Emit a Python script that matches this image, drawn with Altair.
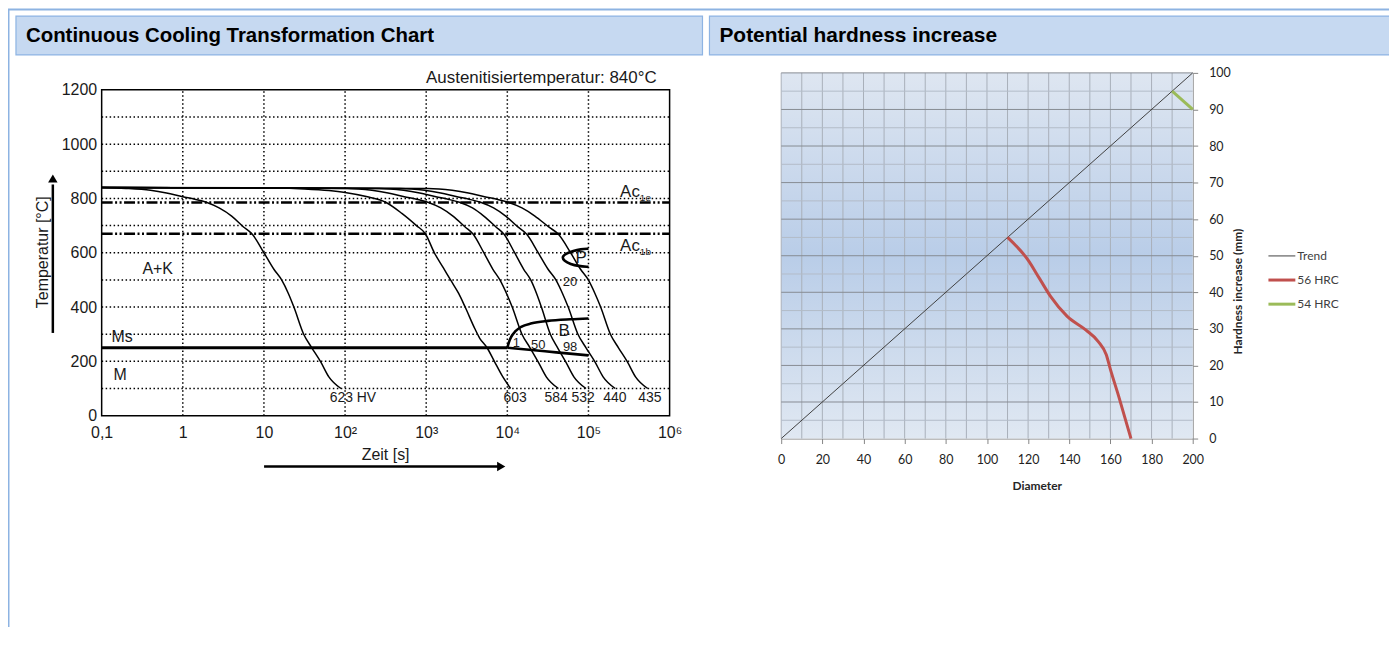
import json
import altair as alt
import pandas as pd

# ===================== LEFT PANEL DATA: CCT chart =====================
time_ticks = [0.1, 1, 10, 100, 1000, 10000, 100000, 1000000]
time_labels = ["0,1", "1", "10", "10²", "10³", "10⁴", "10⁵", "10⁶"]
temp_ticks = [0, 200, 400, 600, 800, 1000, 1200]
time_grid = [1, 10, 100, 1000, 10000, 100000]
temp_grid = [100, 200, 300, 400, 500, 600, 700, 800, 900, 1000, 1100]
time_span = [0.1, 1000000]
temp_span = [0, 1200]

ac_temps = [785, 670]                     # Ac1e, Ac1b
ms_time = [0.1, 10000]
ms_temp = [250, 250]
bs_time = [10000, 10500, 11200, 12500, 14800, 20000, 31600, 60000, 100000]
bs_temp = [250, 272, 291, 310, 327, 340, 349, 355, 358]
bf_time = [10000, 20000, 40000, 100000]
bf_temp = [250, 242, 233, 222]
p_time = [100000, 80000, 65000, 53000, 47000, 50000, 60000, 75000, 100000]
p_temp = [615, 613, 607, 597, 585, 570, 558, 551, 548]

# cooling curves (time in s, temperature in °C)
cool_T = [840, 837, 830, 820, 806, 797, 786, 765, 735, 695, 668, 600, 540, 499, 450, 400, 300, 250, 198, 143, 100]
c623_t = [0.1, 0.2, 0.4, 0.63, 1.0, 1.41, 1.95, 2.8, 4.0, 5.6, 7.2, 10, 13.2, 16.6, 20, 23.4, 30.9, 38.9, 50.1, 63.1, 89]
c603_t = [0.1, 10, 31.6, 63.1, 100, 195, 316, 501, 759, 977, 1259, 1622, 1995, 2512, 3020, 3981, 4571, 5623, 6918, 8511, 10965]
c603_T = [840, 839, 835, 829, 822, 805, 786, 745, 700, 670, 600, 545, 500, 450, 400, 320, 285, 250, 200, 150, 100]
c584_t = [0.1, 107, 214, 339, 537, 759, 1047, 1514, 2138, 3020, 3802, 5129, 6607, 8128, 9772, 11480, 15140, 19050, 23990, 30200, 42660]
c532_t = [0.1, 263, 525, 832, 1318, 1862, 2570, 3715, 5129, 7244, 9120, 12300, 15850, 19500, 22910, 26300, 33880, 41690, 52480, 66070, 93330]
c440_t = [0.1, 479, 955, 1514, 2399, 3388, 4677, 6761, 9550, 13490, 17380, 23990, 31620, 39810, 47860, 56230, 74130, 93330, 120200, 151400, 213800]
c435_t = [0.1, 1047, 2089, 3311, 5248, 7413, 10230, 15140, 21880, 32360, 42660, 60260, 79430, 100000, 120200, 141300, 186200, 234400, 302000, 380200, 537000]

# annotations (anchored in data units)
region_text = ["A+K", "Ms", "M"]
region_t = [0.49, 0.179, 0.169]
region_T = [539, 291, 149]
ac_text = ["Ac", "Ac"]
ac_sub = ["1e", "1b"]
ac_t = [430000, 430000]
ac_T = [822, 624]
ac_sub_T = [800, 604]
phase_text = ["P", "B"]
phase_t = [81000, 50000]
phase_T = [580, 312]
pct_text = ["20", "1", "50", "98"]
pct_t = [59000, 12900, 24000, 59400]
pct_T = [492, 268, 261, 253]
hv_text = ["623 HV", "603", "584", "532", "440", "435"]
hv_t = [125, 12500, 40000, 86000, 212000, 571000]
hv_T = [66, 66, 66, 66, 66, 66]

# ===================== RIGHT PANEL DATA: hardness chart =====================
diam_ticks = [0, 20, 40, 60, 80, 100, 120, 140, 160, 180, 200]
hard_ticks = [0, 10, 20, 30, 40, 50, 60, 70, 80, 90, 100]
diam_grid = [0, 10, 20, 30, 40, 50, 60, 70, 80, 90, 100, 110, 120, 130, 140, 150, 160, 170, 180, 190]
hard_minor = [5, 15, 25, 35, 45, 55, 65, 75, 85, 95]
hard_major = [10, 20, 30, 40, 50, 60, 70, 80, 90, 100]
diam_span = [0, 200]
hard_span = [0, 100]
trend_d = [0, 200]
trend_h = [0, 100]
hrc56_d = [110, 120, 125.5, 131, 139, 148, 154, 158, 160, 164, 170]
hrc56_h = [55, 48.8, 43.8, 38.8, 33.4, 29.7, 26.6, 22.9, 18.9, 11.6, 0]
hrc54_d = [190, 200]
hrc54_h = [95, 90]
legend_names = ["Trend", "56 HRC", "54 HRC"]
series_colors = ["#404040", "#c0504d", "#9bbb59"]

# ===================== layout / style =====================
W, H = 1386, 620
ARIAL = "Liberation Sans"
CAL = "Lato"
INK = "#1a1a1a"
one = pd.DataFrame({"k": [0]})

xL = alt.Scale(type="log", domain=time_span, range=[94, 664], nice=False)
yL = alt.Scale(domain=temp_span, range=[408, 81], nice=False, zero=False)
xR = alt.Scale(domain=diam_span, range=[776, 1189], nice=False, zero=False)
yR = alt.Scale(domain=hard_span, range=[431, 64], nice=False, zero=False)

label_expr = json.dumps(time_labels, ensure_ascii=False) + "[round(log(datum.value)/LN10) + 1]"
axis_xL = alt.Axis(orient="bottom", offset=408 - H, values=time_ticks, labelExpr=label_expr, title=None,
                   domain=False, ticks=False, grid=False, labelFont=ARIAL, labelFontSize=16,
                   labelColor=INK, labelPadding=9, labelFlush=False, labelOverlap=False)
axis_yL = alt.Axis(orient="left", offset=-94, values=temp_ticks, format="d", title=None, domain=False,
                   ticks=False, grid=False, labelFont=ARIAL, labelFontSize=16, labelColor=INK,
                   labelPadding=5, labelFlush=False, labelOverlap=False)
axis_xR = alt.Axis(orient="bottom", offset=431 - H, values=diam_ticks, title=None, grid=False,
                   domainColor="#868686", tickColor="#868686", tickSize=5, labelFont=CAL, labelFontSize=12.5,
                   labelColor="#1e1e1e", labelPadding=10, labelFlush=False, labelOverlap=False)
axis_yR = alt.Axis(orient="right", offset=1189 - W, values=hard_ticks, title=None, grid=False,
                   domainColor="#868686", tickColor="#868686", tickSize=5, labelFont=CAL, labelFontSize=12.5,
                   labelColor="#1e1e1e", labelPadding=11, labelFlush=False, labelOverlap=False)

# ---------- left panel layers ----------
def LX(f, axis=None):
    return alt.X(f, type="quantitative", scale=xL, axis=axis)

def LY(f, axis=None):
    return alt.Y(f, type="quantitative", scale=yL, axis=axis)

df_tg = pd.DataFrame({"t": time_grid, "T0": temp_span[0], "T1": temp_span[1]})
df_Tg = pd.DataFrame({"T": temp_grid, "t0": time_span[0], "t1": time_span[1]})
df_ac = pd.DataFrame({"T": ac_temps, "t0": time_span[0], "t1": time_span[1]})
df_frame = pd.DataFrame({"t0": [time_span[0]], "t1": [time_span[1]], "T0": [temp_span[0]], "T1": [temp_span[1]]})

def seq(ts, Ts):
    return pd.DataFrame({"t": ts, "T": Ts, "i": list(range(len(ts)))})

grid_v = alt.Chart(df_tg).mark_rule(color="black", strokeWidth=1.5, strokeDash=[1.5, 2.5]).encode(
    x=LX("t"), y=LY("T0"), y2="T1")
grid_h = alt.Chart(df_Tg).mark_rule(color="black", strokeWidth=1.5, strokeDash=[1.5, 2.5]).encode(
    y=LY("T"), x=LX("t0"), x2="t1")
ac_lines = alt.Chart(df_ac).mark_rule(color="black", strokeWidth=2.4, strokeDash=[11, 2.5, 2, 2.5, 2, 2.5]).encode(
    y=LY("T"), x=LX("t0"), x2="t1")
ms_line = alt.Chart(seq(ms_time, ms_temp)).mark_line(color="black", strokeWidth=3).encode(
    x=LX("t"), y=LY("T"), order="i")
bs_line = alt.Chart(seq(bs_time, bs_temp)).mark_line(color="black", strokeWidth=2.6, interpolate="monotone").encode(
    x=LX("t"), y=LY("T"), order="i")
bf_line = alt.Chart(seq(bf_time, bf_temp)).mark_line(color="black", strokeWidth=2.6, interpolate="monotone").encode(
    x=LX("t"), y=LY("T"), order="i")
p_line = alt.Chart(seq(p_time, p_temp)).mark_line(color="black", strokeWidth=2.6, interpolate="basis").encode(
    x=LX("t"), y=LY("T"), order="i")

curves = [("623", c623_t, cool_T), ("603", c603_t, c603_T), ("584", c584_t, cool_T),
          ("532", c532_t, cool_T), ("440", c440_t, cool_T), ("435", c435_t, cool_T)]
frames = []
for name, ts, Ts in curves:
    d = seq(ts, Ts)
    d["curve"] = name
    frames.append(d)
df_cool = pd.concat(frames, ignore_index=True)
cool_lines = alt.Chart(df_cool).mark_line(color="black", strokeWidth=1.5, interpolate="monotone").encode(
    x=LX("t"), y=LY("T"), detail="curve:N", order="i")

def ltext(texts, ts, Ts, size, align="center"):
    d = pd.DataFrame({"label": texts, "t": ts, "T": Ts})
    return alt.Chart(d).mark_text(font=ARIAL, fontSize=size, align=align, baseline="middle", color=INK).encode(
        x=LX("t"), y=LY("T"), text="label:N")

t_region = ltext(region_text, region_t, region_T, 16)
t_ac = ltext(ac_text, ac_t, ac_T, 17, "right")
t_acsub = ltext(ac_sub, ac_t, ac_sub_T, 10, "left")
t_phase = ltext(phase_text, phase_t, phase_T, 17)
t_pct = ltext(pct_text, pct_t, pct_T, 13)
t_hv = ltext(hv_text, hv_t, hv_T, 14)

frame = alt.Chart(df_frame).mark_rect(fill="transparent", stroke="black", strokeWidth=1.5).encode(
    x=LX("t0", axis_xL), x2="t1", y=LY("T0", axis_yL), y2="T1")

left = alt.layer(grid_v, grid_h, ac_lines, ms_line, bs_line, bf_line, p_line, cool_lines,
                 t_region, t_ac, t_acsub, t_phase, t_pct, t_hv, frame
                 ).resolve_axis(x="independent", y="independent")

# ---------- right panel layers ----------
def RX(f, axis=None):
    return alt.X(f, type="quantitative", scale=xR, axis=axis)

def RY(f, axis=None):
    return alt.Y(f, type="quantitative", scale=yR, axis=axis)

df_bg = pd.DataFrame({"d0": [diam_span[0]], "d1": [diam_span[1]], "h0": [hard_span[0]], "h1": [hard_span[1]]})
grad = alt.LinearGradient(gradient="linear", x1=0, x2=0, y1=0, y2=1,
                          stops=[alt.GradientStop(color="#dee6f1", offset=0),
                                 alt.GradientStop(color="#b9cde8", offset=0.5),
                                 alt.GradientStop(color="#e0e8f2", offset=1)])
bg = alt.Chart(df_bg).mark_rect(fill=grad).encode(
    x=RX("d0", axis_xR), x2="d1", y=RY("h0", axis_yR), y2="h1")
rg_v = alt.Chart(pd.DataFrame({"d": diam_grid, "h0": hard_span[0], "h1": hard_span[1]})).mark_rule(
    color="#a9b0ba", strokeWidth=1).encode(x=RX("d"), y=RY("h0"), y2="h1")
rg_minor = alt.Chart(pd.DataFrame({"h": hard_minor, "d0": diam_span[0], "d1": diam_span[1]})).mark_rule(
    color="#b3bcc8", strokeWidth=1).encode(y=RY("h"), x=RX("d0"), x2="d1")
rg_major = alt.Chart(pd.DataFrame({"h": hard_major, "d0": diam_span[0], "d1": diam_span[1]})).mark_rule(
    color="#878c93", strokeWidth=1).encode(y=RY("h"), x=RX("d0"), x2="d1")

def rline(ds, hs, color, width):
    d = pd.DataFrame({"d": ds, "h": hs, "i": list(range(len(ds)))})
    return alt.Chart(d).mark_line(color=color, strokeWidth=width, interpolate="monotone").encode(
        x=RX("d"), y=RY("h"), order="i")

trend = rline(trend_d, trend_h, series_colors[0], 1)
red = rline(hrc56_d, hrc56_h, series_colors[1], 3)
green = rline(hrc54_d, hrc54_h, series_colors[2], 3)

right = alt.layer(bg, rg_v, rg_minor, rg_major, trend, red, green
                  ).resolve_axis(x="independent", y="independent")

# ---------- decorations (page frame, header bands, titles, arrows, legend) ----------
def vrule(x1, x2, y1, y2, color, width):
    return alt.Chart(one).mark_rule(color=color, strokeWidth=width).encode(
        x=alt.value(x1), x2=alt.value(x2), y=alt.value(y1), y2=alt.value(y2))

def vtext(x, y, s, size, font=ARIAL, weight="normal", align="left", angle=0, color=INK):
    return alt.Chart(one).mark_text(font=font, fontSize=size, fontWeight=weight, align=align,
                                    baseline="middle", angle=angle, color=color).encode(
        x=alt.value(x), y=alt.value(y), text=alt.value(s))

def vband(x1, x2, y1, y2):
    return alt.Chart(one).mark_rect(fill="#c6d9f1", stroke="#8eb4e3", strokeWidth=1.2).encode(
        x=alt.value(x1), x2=alt.value(x2), y=alt.value(y1), y2=alt.value(y2))

def vhead(x, y, shape, size):
    return alt.Chart(one).mark_point(shape=shape, filled=True, color="black", size=size, opacity=1).encode(
        x=alt.value(x), y=alt.value(y))

decor = [
    vrule(0, W, 0.5, 0.5, "#8db3e2", 2),
    vrule(0.5, 0.5, 0, H, "#8db3e2", 2),
    vband(8, 697, 7, 46),
    vband(704, W + 2, 7, 46),
    vtext(18, 26.5, "Continuous Cooling Transformation Chart", 20.5, weight="bold", color="black"),
    vtext(714, 26.5, "Potential hardness increase", 21, weight="bold", color="black"),
    vtext(651, 69.5, "Austenitisiertemperatur: 840°C", 17, align="right"),
    vtext(35, 244, "Temperatur [°C]", 16, align="center", angle=270),
    vrule(45, 45, 325, 176, "black", 2.5),
    vhead(45, 170, "triangle-up", 90),
    vtext(379, 448, "Zeit [s]", 16, align="center"),
    vrule(257, 492, 459, 459, "black", 2.5),
    vhead(495, 459, "triangle-right", 90),
    vtext(1033, 478.5, "Diameter", 12, font=CAL, weight="bold", align="center", color="#262626"),
    vtext(1234, 283.5, "Hardness increase (mm)", 12, font=CAL, weight="bold", align="center", angle=270, color="#262626"),
]
for k, (nm, col) in enumerate(zip(legend_names, series_colors)):
    yy = 247.7 + 24.2 * k
    decor.append(vrule(1265, 1292, yy, yy, col, 1 if k == 0 else 3))
    decor.append(vtext(1294, yy, nm, 12, font=CAL, color="#404040"))

chart = alt.layer(*decor, left, right).resolve_scale(
    x="independent", y="independent"
).resolve_axis(
    x="independent", y="independent"
).properties(
    width=W, height=H, padding=0, autosize=alt.AutoSizeParams(type="none")
).configure_view(stroke=None)

chart.save("out.html", embed_options={"renderer": "svg", "actions": False})
